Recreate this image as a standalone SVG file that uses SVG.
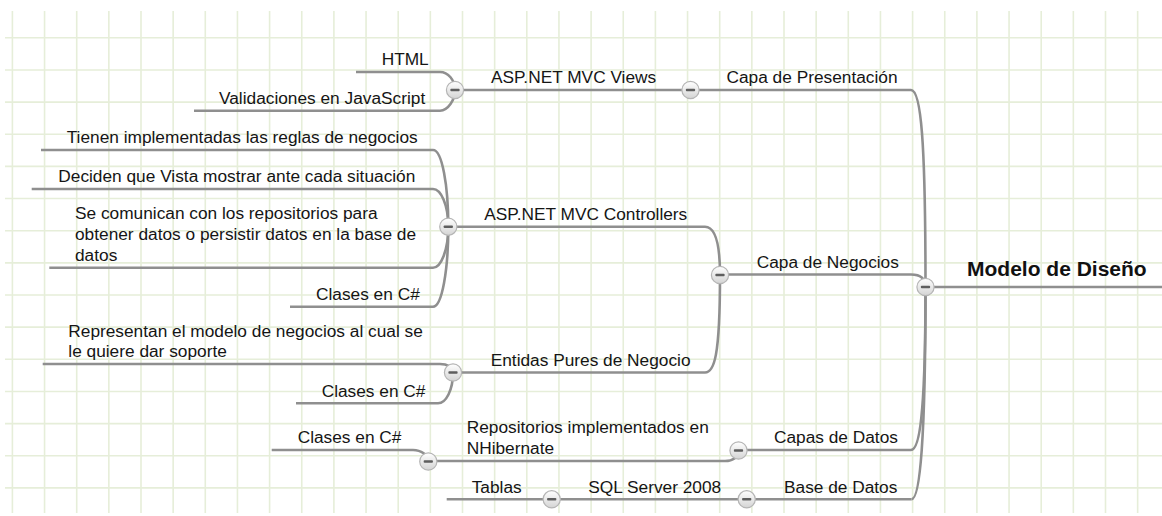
<svg xmlns="http://www.w3.org/2000/svg" width="1162" height="516" viewBox="0 0 1162 516">
<style>
.grid{stroke:#e6eed9;stroke-width:1.6;fill:none}
.ln{stroke:#8f8f8f;stroke-width:2.6;fill:none;stroke-linecap:butt}
.t{font-family:"Liberation Sans",Arial,sans-serif;font-size:17.3px;fill:#151515}
.root{font-family:"Liberation Sans",Arial,sans-serif;font-size:21px;font-weight:bold;fill:#111}
</style>
<defs>
<linearGradient id="bg" x1="0" y1="0" x2="0" y2="1">
<stop offset="0" stop-color="#ffffff"/>
<stop offset="1" stop-color="#d4d4d4"/>
</linearGradient>
<g id="btn">
<circle r="8.6" fill="url(#bg)" stroke="#b5b5b5" stroke-width="1.2"/>
<rect x="-4.6" y="-1.3" width="9.2" height="2.6" rx="0.8" fill="#5e5e5e"/>
</g>
</defs>
<rect width="1162" height="516" fill="#ffffff"/>
<g id="grid" class="grid">
<path d="M12.4 11V513M44.55 11V513M76.7 11V513M108.85 11V513M141 11V513M173.15 11V513M205.3 11V513M237.45 11V513M269.6 11V513M301.75 11V513M333.9 11V513M366.05 11V513M398.2 11V513M430.35 11V513M462.5 11V513M494.65 11V513M526.8 11V513M558.95 11V513M591.1 11V513M623.25 11V513M655.4 11V513M687.55 11V513M719.7 11V513M751.85 11V513M784 11V513M816.15 11V513M848.3 11V513M880.45 11V513M912.6 11V513M944.75 11V513M976.9 11V513M1009.05 11V513M1041.2 11V513M1073.35 11V513M1105.5 11V513M1137.65 11V513"/>
<path d="M5 37.8H1162M5 69.95H1162M5 102.1H1162M5 134.25H1162M5 166.4H1162M5 198.55H1162M5 230.7H1162M5 262.85H1162M5 295H1162M5 327.15H1162M5 359.3H1162M5 391.45H1162M5 423.6H1162M5 455.75H1162M5 487.9H1162"/>
</g>
<g id="connectors" class="ln">
<path d="M911 90C921 90 925.5 140 925.5 287"/>
<path d="M911 274.5C919 274.5 925.5 277 925.5 287"/>
<path d="M911 450C920 450 925.5 410 925.5 287"/>
<path d="M911.5 499.3C920 499.3 925.5 440 925.5 287"/>
<path d="M705 226.7C714 226.7 720 240 720 275"/>
<path d="M705 372.5C714 372.5 720 358 720 275"/>
<path d="M725 461C733 461 738.5 457 738.5 450.5"/>
<path d="M440 72C448 72 455 80 455 90"/>
<path d="M440 110.7C448 110.7 455 100 455 90"/>
<path d="M433 150C442 150 448.3 185 448.3 226.7"/>
<path d="M433 189C441 189 448.3 205 448.3 226.7"/>
<path d="M433 267.7C441 267.7 448.3 250 448.3 226.7"/>
<path d="M433 306.7C442 306.7 448.3 270 448.3 226.7"/>
<path d="M440 364C447 364 453 367 453 372.5"/>
<path d="M438 403.3C446 403.3 453 390 453 372.5"/>
<path d="M413 450C421 450 428.3 455 428.3 461.5"/>
</g>
<g id="n_html"><path class="ln" d="M356 72H440"/><text class="t" x="381.7" y="65">HTML</text></g>
<g id="n_validaciones"><path class="ln" d="M194 110.7H440"/><text class="t" x="219" y="104">Validaciones en JavaScript</text></g>
<g id="n_tienen"><path class="ln" d="M41 150H433"/><text class="t" x="66.7" y="143.3">Tienen implementadas las reglas de negocios</text></g>
<g id="n_deciden"><path class="ln" d="M31.7 189H433"/><text class="t" x="58.3" y="182">Deciden que Vista mostrar ante cada situación</text></g>
<g id="n_comunican"><path class="ln" d="M49.3 267.7H433"/><text class="t" x="75" y="219"><tspan x="75" y="219">Se comunican con los repositorios para</tspan><tspan x="75" y="240">obtener datos o persistir datos en la base de</tspan><tspan x="75" y="261">datos</tspan></text></g>
<g id="n_clases1"><path class="ln" d="M290 306.7H433"/><text class="t" x="316" y="300">Clases en C#</text></g>
<g id="n_representan"><path class="ln" d="M42.7 364H440"/><text class="t" x="68.3" y="336.7"><tspan x="68.3" y="336.7">Representan el modelo de negocios al cual se</tspan><tspan x="68.3" y="357.3">le quiere dar soporte</tspan></text></g>
<g id="n_clases2"><path class="ln" d="M296 403.3H438"/><text class="t" x="321.7" y="397">Clases en C#</text></g>
<g id="n_clases3"><path class="ln" d="M271.7 450H413"/><text class="t" x="297.7" y="443.3">Clases en C#</text></g>
<g id="n_tablas"><path class="ln" d="M446.7 499.3H551.7"/><text class="t" x="471.7" y="492.7">Tablas</text></g>
<g id="n_views"><path class="ln" d="M455 90H690.5"/><text class="t" x="491" y="83">ASP.NET MVC Views</text><use href="#btn" x="455" y="90"/></g>
<g id="n_controllers"><path class="ln" d="M448.3 226.7H705"/><text class="t" x="484.3" y="219.7">ASP.NET MVC Controllers</text><use href="#btn" x="448.3" y="226.7"/></g>
<g id="n_entidas"><path class="ln" d="M453 372.5H705"/><text class="t" x="490.7" y="365.5">Entidas Pures de Negocio</text><use href="#btn" x="453" y="372.5"/></g>
<g id="n_repositorios"><path class="ln" d="M428.3 461H725"/><text class="t" x="466.7" y="432.7"><tspan x="466.7" y="432.7">Repositorios implementados en</tspan><tspan x="466.7" y="454">NHibernate</tspan></text><use href="#btn" x="428.3" y="461.5"/></g>
<g id="n_sql"><path class="ln" d="M551.7 499.3H746.7"/><text class="t" x="588.3" y="492.7">SQL Server 2008</text><use href="#btn" x="551.7" y="499.3"/></g>
<g id="n_presentacion"><path class="ln" d="M690.5 90H911"/><text class="t" x="726.5" y="83">Capa de Presentación</text><use href="#btn" x="690.5" y="90"/></g>
<g id="n_negocios"><path class="ln" d="M720 274.5H911"/><text class="t" x="756.7" y="268">Capa de Negocios</text><use href="#btn" x="720" y="275"/></g>
<g id="n_datos"><path class="ln" d="M738.5 450H911"/><text class="t" x="774" y="443.3">Capas de Datos</text><use href="#btn" x="738.5" y="450.5"/></g>
<g id="n_base"><path class="ln" d="M746.7 499.3H911.5"/><text class="t" x="784" y="492.5">Base de Datos</text><use href="#btn" x="746.7" y="499.3"/></g>
<g id="n_root"><path class="ln" d="M925.5 287H1162"/><text class="root" x="967" y="276">Modelo de Diseño</text><use href="#btn" x="925.5" y="287"/></g>
</svg>
